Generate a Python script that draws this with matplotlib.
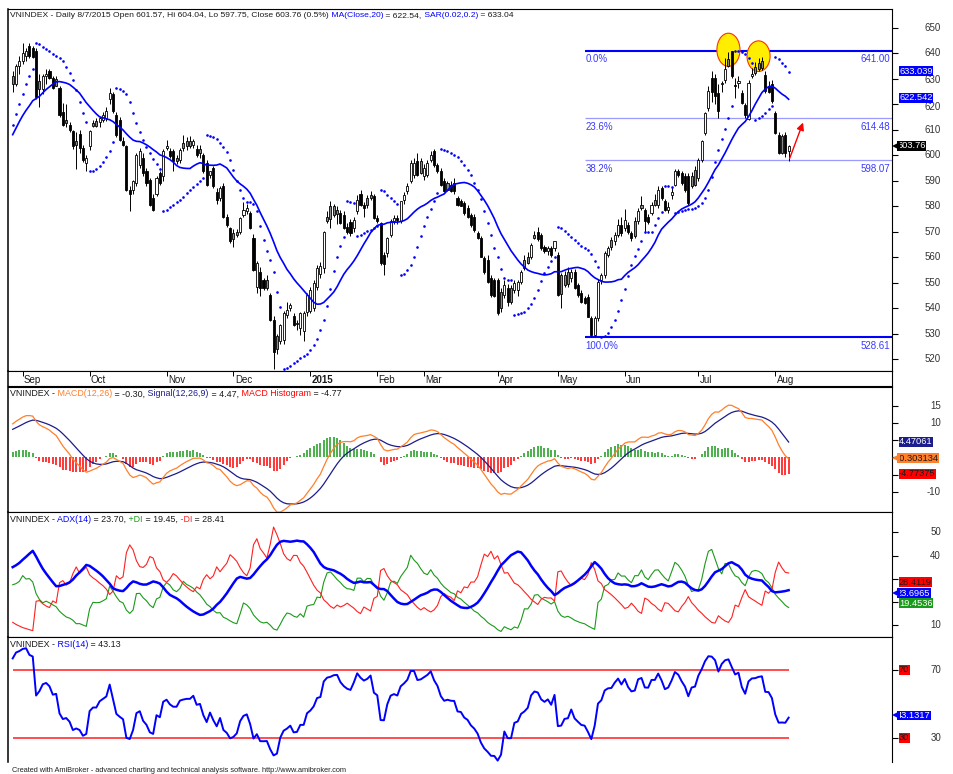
import numpy as np
import pandas as pd
import matplotlib
matplotlib.use("Agg")
import matplotlib.pyplot as plt
from matplotlib.patches import Ellipse
from matplotlib.offsetbox import TextArea, HPacker, AnchoredOffsetbox
from matplotlib.transforms import offset_copy

plt.rcParams['font.family'] = ['Liberation Sans', 'DejaVu Sans']

# ---- data (VNINDEX daily, Jun 2014 - Aug 2015) ----------------------------
# first 60 bars are only there so that the indicators are warmed up
hose_holidays = ['2014-09-01', '2014-09-02', '2015-01-01', '2015-01-02',
                 '2015-02-16', '2015-02-17', '2015-02-18', '2015-02-19', '2015-02-20', '2015-02-23',
                 '2015-04-27', '2015-04-28', '2015-04-29', '2015-04-30', '2015-05-01']
dates = pd.bdate_range('2014-06-04', '2015-08-07')
dates = dates[~dates.isin(pd.to_datetime(hose_holidays))]

opens = [566, 568, 571, 574, 572, 569, 566, 568, 572, 575,
         573, 576, 579, 577, 574, 576, 580, 583, 581, 578,
         580, 584, 582, 579, 577, 580, 583, 585, 584, 582,
         585, 586, 588, 587, 589, 591, 590, 592, 590, 588,
         589, 586, 584, 586, 593, 600, 603, 599, 606, 609,
         603, 606, 610, 605, 609, 614, 617, 619, 621, 624,
         631, 628, 635, 637, 639, 643, 642, 641, 629, 626,
         631, 633, 630.5, 630, 626.5, 617, 614, 612, 609.5, 605.5,
         608.5, 603, 597, 603.5, 612.7, 613.4, 613, 614, 614.7, 622,
         624, 616, 614, 605.5, 603.5, 586.5, 586.5, 589, 596.3, 599,
         593.7, 590.5, 583.2, 585, 593, 591.7, 603, 601.6, 601.6, 599,
         598.3, 604.9, 605.5, 605.5, 604.2, 602.3, 602.3, 600.3, 597, 592.4,
         595, 585.8, 583.2, 587.8, 576, 571.4, 569.5, 570.1, 570.1, 576.7,
         578, 577.4, 567.5, 548.5, 554.4, 551.2, 551, 545.2, 535.4, 529,
         527, 527.5, 537.4, 540, 536.8, 534, 532.1, 531, 538.7, 539,
         540, 548.5, 553.5, 555.7, 576, 580, 580, 578.6, 577.4, 576.7,
         572, 574, 571.4, 578, 585, 580.6, 583.2, 584.5, 583.9, 575.4,
         573.4, 561, 561.6, 568.8, 574.1, 575.4, 574.1, 582.6, 585.9, 589.8,
         592.4, 597.6, 597.6, 591.7, 592.4, 598.3, 601.6, 596.3, 593.7, 589.8,
         589, 588.5, 589, 583.2, 582, 581.2, 579.3, 576.7, 576, 569.5,
         567.5, 559.6, 559, 551.8, 551.2, 551.2, 546.5, 545.2, 547.9, 547.9,
         547.2, 547.2, 550.5, 559, 560.3, 560.3, 568.8, 570, 568.8, 564.2,
         562.3, 563.6, 563.6, 561, 553.1, 553.1, 554.4, 551.8, 554.4, 549.2,
         545.9, 543.9, 544.5, 536.1, 529.5, 536.1, 551.2, 553.1, 561, 566.8,
         566.2, 568.8, 572.8, 571.4, 572.8, 569.5, 574.1, 574.1, 580.6, 578.6,
         576, 577.4, 582.6, 580.6, 587.2, 582, 578.6, 584.5, 588.5, 593.7,
         593, 591.7, 591.7, 591.7, 594.3, 591.1, 598.3, 608.8, 618.6, 630.4,
         630.4, 624.5, 628.5, 629.7, 637.6, 640.9, 627.5, 628.5, 624.5, 619.9,
         614.3, 631, 634.8, 636.2, 636.9, 631.7, 627, 627.8, 616.6, 608.1,
         607.5, 608.1, 601.57]
highs = [569.5, 572.5, 575.5, 575, 573, 570, 569.5, 573, 576.5, 576,
         577.5, 580.5, 580, 578, 577.5, 581.5, 584.5, 584, 582, 581.5,
         585.5, 585, 583, 580, 581.5, 584, 586.5, 586, 585, 585.5,
         588, 589, 589.5, 590, 592, 592.5, 593, 593, 591, 590.5,
         590, 587, 586.5, 594, 601, 605, 604, 607, 610, 610,
         607, 611, 611, 610, 615, 619, 620, 623, 624, 628,
         633, 636, 639, 644, 642, 644, 643, 642, 632, 632,
         634, 634, 631, 631, 627, 620.5, 620, 613, 610, 609,
         610, 604, 600.3, 610, 614, 614.5, 615.5, 617, 619, 626.5,
         625, 617, 615, 607, 604, 588, 590.5, 601, 603, 601,
         595, 591, 585, 592, 594, 602.5, 606, 603, 602.5, 600,
         603, 608, 607, 607.5, 606.5, 604, 604, 601, 598, 594,
         596, 587, 588, 589, 577, 572, 571, 571, 576, 581.5,
         581, 578, 569, 558.5, 556, 552, 553, 546, 537, 530,
         534, 539, 542.6, 542, 538, 535.5, 538.5, 539, 546, 548.5,
         551, 557, 558, 570.5, 578, 582, 581, 580, 578.5, 578,
         573.5, 575, 576, 584.5, 586.5, 581.5, 584.5, 586, 585, 576.5,
         574, 562, 568, 575, 576.5, 576.5, 582, 585.5, 589, 598,
         599, 600.9, 599, 596.5, 598, 601.6, 602.5, 597, 595, 591,
         590, 590, 591, 584, 583, 582, 580.5, 577.5, 577, 570.5,
         568.5, 560.5, 561, 553, 552, 552, 548, 551, 549.5, 549,
         551, 551, 555, 561, 562, 565.5, 570.5, 572, 569.5, 565,
         564.5, 564.5, 566.5, 562, 554, 554.5, 556, 555.5, 555.5, 550,
         547, 545, 545.5, 537, 537, 551.5, 554, 562.5, 564.5, 568,
         570, 575, 576, 579, 574, 570.5, 576, 579.5, 584, 579.5,
         577, 581.5, 585, 588, 588, 583, 581.5, 587.5, 594.5, 594.5,
         594, 593, 593, 593.5, 596, 599, 606, 617, 627, 633,
         632, 628, 629, 638.3, 640.5, 641.0, 630.4, 631, 625.5, 620.5,
         629.5, 634.3, 636.5, 638, 638.5, 633, 629, 629.5, 617.5, 609,
         608.5, 609, 604.04]
lows = [565, 567, 570, 571, 568, 565, 565, 567.5, 571, 572,
        572.5, 575, 576, 573, 573.5, 575, 579.5, 580, 577, 577.5,
        579, 581, 578, 576, 576.5, 579.5, 582, 583, 581, 581.5,
        584, 585, 586, 586, 588, 589, 589, 589, 587, 587,
        585, 583, 583, 585, 592, 597, 595, 598, 604, 601,
        600, 605, 600, 599, 607, 611, 608, 614, 612, 620.5,
        625, 627, 632, 636, 637, 638, 638, 622, 619, 624,
        628, 630, 626, 627, 615, 611.5, 611, 609, 602.5, 594.5,
        601, 597.5, 593.7, 602, 611, 611, 611, 613, 613.5, 620,
        616.5, 607, 605.5, 603.5, 586, 578, 585, 588, 595, 592,
        588, 580, 578, 584, 588.5, 590, 602, 599, 593.7, 596.5,
        597, 601.6, 602, 603, 603, 599.5, 599, 593, 588, 591,
        587, 581, 582, 575.5, 572, 565.5, 564, 568, 569, 576,
        577, 571, 554.5, 546, 545, 547, 547, 535, 516, 522,
        526, 526, 536, 539, 533, 531.5, 529.5, 527, 537, 538,
        539, 547, 552, 554, 573.5, 571.4, 576, 573, 573, 571,
        569, 568.5, 570, 577, 580, 576, 579.5, 582.5, 575, 573.5,
        557, 553, 560, 568, 573, 573, 573.5, 581, 585, 589,
        591, 592, 592.5, 590.5, 591.5, 597.5, 595.5, 593, 588, 585.5,
        586, 585.5, 585, 580, 580, 576.5, 575.5, 572, 570, 567,
        560, 553.5, 550, 544.5, 544.5, 537.5, 538.5, 544, 541, 541.5,
        546, 545, 549.5, 555, 557.5, 559.5, 567, 566.5, 563, 561.5,
        561, 560, 562.5, 545, 540, 548.5, 548.5, 550.5, 547.5, 544.5,
        542, 541.5, 536.5, 528.61, 528.7, 535, 549.5, 552, 560, 563,
        565, 568, 568.5, 570.5, 569, 566.5, 567.5, 573, 578.5, 570,
        573, 576.5, 580, 579.5, 582.5, 578, 577.5, 583, 588, 591.5,
        588.5, 585.5, 580.5, 587, 588, 590, 597.5, 608, 617.5, 621,
        620, 614.5, 625, 628.5, 634.5, 630.5, 622.5, 626.5, 620, 614.5,
        614, 630.4, 631.5, 633, 633.5, 624.5, 624.5, 620.5, 608.5, 600.5,
        600.5, 599.5, 597.75]
closes = [568, 571, 574, 572, 569, 566, 568, 572, 575, 573,
          576, 579, 577, 574, 576, 580, 583, 581, 578, 580,
          584, 582, 579, 577, 580, 583, 585, 584, 582, 584,
          586, 588, 587, 589, 591, 590, 592, 590, 588, 589,
          586, 584, 585, 593, 600, 603, 599, 606, 609, 603,
          606, 610, 605, 609, 614, 617, 619, 621, 624, 627,
          628, 635, 637, 640, 641, 639, 638.5, 623, 626, 631,
          632, 630.5, 626.5, 627, 616, 612, 612.5, 610, 603.5, 604.2,
          603, 598.3, 599, 609.4, 611.4, 611.4, 614.7, 616, 617.3, 624.5,
          617.3, 608.1, 606, 604.2, 586.5, 585, 589.8, 600.3, 601.6, 593,
          589, 580.6, 578.6, 591, 589, 601.6, 603.5, 599.6, 597.6, 597.6,
          602.2, 603, 603.5, 603.5, 605.5, 600.3, 600.8, 593.7, 588.5, 593.7,
          587.8, 582.6, 587.2, 576, 572.8, 566.2, 567, 568.8, 575.4, 578.6,
          579.5, 571.4, 555, 557.6, 548, 547.9, 548, 535.4, 523, 524,
          533.4, 538, 539.4, 541.3, 533.5, 533.8, 538, 538, 545.2, 547,
          549.8, 555.7, 556.5, 570, 574.1, 575, 576.7, 577, 573.4, 571.4,
          570.1, 569.5, 574.8, 582.6, 580.6, 579.3, 580.6, 583.2, 575.4, 574.1,
          557.7, 557.5, 567.5, 574.1, 575.4, 574.5, 581.9, 584.5, 587.8, 597,
          597, 592.4, 593, 595, 597, 600.3, 596.3, 593.7, 588.5, 585.9,
          586.5, 586, 585.9, 580.6, 580.3, 577.3, 576, 572.8, 570.8, 567.5,
          560.3, 554.4, 550.5, 545.2, 545, 538, 540, 549.2, 542.6, 542.6,
          549.8, 550.5, 554.4, 555.7, 557.6, 564.9, 567.5, 567, 563.6, 562.3,
          563.6, 561, 566.2, 545.2, 545.5, 549.2, 549.5, 554.4, 547.9, 545.2,
          542.6, 542, 536.7, 529.5, 536.1, 550.5, 553.1, 561.6, 563.6, 563.9,
          568.8, 572.8, 569.5, 574.7, 570.1, 567.5, 568.2, 578, 579.3, 574.1,
          574, 580.6, 580.6, 586.5, 583.2, 578.6, 579.9, 585.5, 593.7, 592.4,
          589.2, 586.5, 581.2, 587.8, 588.5, 598.3, 605.5, 616.6, 625.2, 625,
          623.2, 617.3, 627.8, 633.7, 635.2, 631.1, 627, 629, 620.5, 616,
          628.5, 632, 632.3, 633.7, 634.3, 625.2, 625, 621.2, 608.8, 600.9,
          601, 600.76, 603.76]

first_shown = '2014-08-27'
circled_days = ['2015-07-14', '2015-07-27']
fib_ratios = [0.0, 0.236, 0.382, 1.0]
fib_from = '2015-04-01'

# readouts as printed by AmiBroker
ma_last, sar_last = 622.542, 633.039
macd_last, signal_last, hist_last = -0.303134, 4.47061, -4.77375
adx_last, pdi_last, mdi_last = 23.6965, 19.4536, 28.4119
rsi_last = 43.1317

# ---- indicators -----------------------------------------------------------
O, Hi, Lo, C = (np.array(a, dtype=float) for a in (opens, highs, lows, closes))
n = len(C)
assert len(dates) == n, (len(dates), n)
x = np.arange(n)
v0 = dates.get_loc(pd.Timestamp(first_shown))
vis = x >= v0
xs = x[vis]
last = n - 1

cs = pd.Series(C)
ma20 = cs.rolling(20).mean().to_numpy()
macd_s = cs.ewm(span=12, adjust=False).mean() - cs.ewm(span=26, adjust=False).mean()
signal = macd_s.ewm(span=9, adjust=False).mean().to_numpy()
macd = macd_s.to_numpy()
hist = macd - signal

def wilder(a):
    return pd.Series(a).ewm(alpha=1 / 14, adjust=False).mean().to_numpy()

d = np.r_[0, np.diff(C)]
rsi = 100 - 100 / (1 + wilder(np.clip(d, 0, None)) / wilder(np.clip(-d, 0, None)))

prev_c = np.r_[C[0], C[:-1]]
tr = np.maximum.reduce([Hi - Lo, np.abs(Hi - prev_c), np.abs(Lo - prev_c)])
up = np.r_[0, np.diff(Hi)]
dn = np.r_[0, -np.diff(Lo)]
atr = wilder(tr)
pdi = 100 * wilder(np.where((up > dn) & (up > 0), up, 0.0)) / atr
mdi = 100 * wilder(np.where((dn > up) & (dn > 0), dn, 0.0)) / atr
dx = 100 * np.abs(pdi - mdi) / np.maximum(pdi + mdi, 1e-9)
adx = wilder(dx)


def parabolic_sar(h, l, step=0.02, amax=0.2):
    sar = np.zeros(len(h))
    rising, af, ep = True, step, h[0]
    sar[0] = l[0]
    for i in range(1, len(h)):
        s = sar[i - 1] + af * (ep - sar[i - 1])
        if rising:
            s = min(s, l[i - 1], l[max(i - 2, 0)])
            if l[i] < s:
                rising, s, ep, af = False, ep, l[i], step
            elif h[i] > ep:
                ep, af = h[i], min(af + step, amax)
        else:
            s = max(s, h[i - 1], h[max(i - 2, 0)])
            if h[i] > s:
                rising, s, ep, af = True, ep, h[i], step
            elif l[i] < ep:
                ep, af = l[i], min(af + step, amax)
        sar[i] = s
    return sar

sar = parabolic_sar(Hi, Lo)

# ---- layout (pixel boxes of the AmiBroker panes) ---------------------------
W, H = 954, 774
fig = plt.figure(figsize=(W / 100, H / 100), dpi=100)
PW = 884

def pane(top, bottom):
    return fig.add_axes([8 / W, 1 - bottom / H, PW / W, (bottom - top) / H])

ax_p = pane(9, 371)
ax_d = pane(371, 386.5)
ax_m = pane(386.5, 512)
ax_a = pane(512, 637)
ax_r = pane(637, 762)
xlim = (v0 - 1.4, v0 + 262.9)

BLUE = '#0000ff'
TXT = '#1a1a1a'
FS = 7
TFS = 6.4

for ax in (ax_p, ax_d, ax_m, ax_a, ax_r):
    ax.set_xlim(*xlim)
    ax.tick_params(axis='x', bottom=False, labelbottom=False)
    for s in ax.spines.values():
        s.set_linewidth(0.8)
        s.set_color('black')
    ax.spines['left'].set_linewidth(1.1)
ax_r.spines['bottom'].set_visible(False)


def right_axis(ax, ticks, covered=()):
    # labels right under a value tag are hidden (as AmiBroker does),
    # labels just touching one are nudged away from it
    ax.set_yticks(ticks)
    ax.tick_params(axis='y', left=False, right=True, labelleft=False, labelright=False,
                   length=4, width=0.8, direction='out')
    lo, hi = ax.get_ylim()
    ppu = ax.get_position().height * H / (hi - lo)
    for t in ticks:
        ty = t
        dists = [(t - c) * ppu for c in covered]
        if any(abs(dd) < 6 for dd in dists):
            continue
        for c, dd in zip(covered, dists):
            if abs(dd) < 9:
                ty = c + np.sign(dd) * 9 / ppu
        ax.text(1 + 49 / PW, ty, f'{t:g}', transform=ax.get_yaxis_transform(),
                ha='right', va='center', fontsize=FS, color='#333333')


def tag(ax, y, text, bg, fg, pointer=False):
    tr_ = ax.get_yaxis_transform()
    x0 = 1 + (5 if pointer else 7) / PW
    ax.text(x0, y, text, transform=tr_, ha='left', va='center', fontsize=6.7, color=fg, zorder=6,
            bbox=dict(boxstyle='square,pad=0.05', fc=bg, ec='none'), clip_on=False)
    if pointer:
        ax.plot([1 + 3.5 / PW], [y], marker='<', ms=6, color=bg, mew=0,
                transform=tr_, clip_on=False, zorder=6)


def title(ax, parts, size=TFS):
    boxes = [TextArea(s, textprops=dict(color=c, fontsize=size)) for s, c in parts]
    pack = HPacker(children=boxes, align='baseline', pad=0, sep=0)
    anch = AnchoredOffsetbox(loc='upper left', child=pack, pad=0, borderpad=0, frameon=False,
                             bbox_to_anchor=(0, 1),
                             bbox_transform=offset_copy(ax.transAxes, fig, x=2, y=-3, units='dots'))
    ax.add_artist(anch)

# ---- price pane -------------------------------------------------------------
ax_p.set_ylim(515.4, 657.4)
right_axis(ax_p, list(range(520, 651, 10)), covered=(sar_last, ma_last, C[last]))
fill = np.where(C >= O, 'white', np.where(C < prev_c, 'black', '#8a8a8a'))
ax_p.vlines(xs, Lo[vis], Hi[vis], color='black', lw=0.7, zorder=3)
ax_p.bar(xs, np.maximum(np.abs(C - O), 0.3)[vis], bottom=np.minimum(O, C)[vis], width=0.62,
         color=fill[vis], edgecolor='black', lw=0.6, zorder=4)
ax_p.plot(xs, ma20[vis], color=BLUE, lw=1.2, zorder=5)
ax_p.plot(xs, sar[vis], ls='none', marker='o', ms=1.9, mew=0, color=BLUE, zorder=5)

f0 = dates.get_loc(pd.Timestamp(fib_from))
lo_i = f0 + int(np.argmin(Lo[f0:]))
fib_lo, fib_hi = Lo[lo_i], Hi[lo_i:].max()
fib_x0 = lo_i - 2
for r in fib_ratios:
    lvl = fib_hi - r * (fib_hi - fib_lo)
    strong = r in (0.0, 1.0)
    ax_p.hlines(lvl, fib_x0, xlim[1], color=BLUE if strong else '#9a9aff',
                lw=1.5 if strong else 0.9, zorder=1)
    ax_p.text(fib_x0 + 0.3, lvl - 1.3, f'{r * 100:.1f}%', color='#3a3aff', fontsize=FS, va='top')
    ax_p.text(xlim[1] - 0.5, lvl - 1.3, f'{lvl:.2f}', color='#3a3aff', fontsize=FS, va='top', ha='right')
    if r == 0.236:
        lvl236 = lvl

for day, hgt in zip(circled_days, (13, 12)):
    i = dates.get_loc(pd.Timestamp(day))
    ax_p.add_patch(Ellipse((i, Hi[i] + 0.9), 6.9, hgt, fc='#ffee00', ec='#ff3000', lw=0.8, zorder=2))

ax_p.annotate('', xy=(last + 4.6, lvl236 - 0.6), xytext=(last, Lo[last]),
              arrowprops=dict(arrowstyle='-|>', color='red', lw=1.0, mutation_scale=11), zorder=6)

tag(ax_p, sar_last, f'{sar_last:.3f}', BLUE, 'white')
tag(ax_p, ma_last, f'{ma_last:.3f}', BLUE, 'white')
tag(ax_p, C[last], f'{C[last]:.2f}', 'black', 'white', pointer=True)

chg = (C[last] / C[last - 1] - 1) * 100
title(ax_p, [(f'VNINDEX - Daily {dates[last].month}/{dates[last].day}/{dates[last].year} '
              f'Open {O[last]:.2f}, Hi {Hi[last]:.2f}, Lo {Lo[last]:.2f}, Close {C[last]:.2f} ({chg:.1f}%)', TXT),
             (' MA(Close,20)', BLUE), (f' = {ma_last:.2f},', TXT),
             (' SAR(0.02,0.2)', BLUE), (f' = {sar_last:.2f}', TXT)], size=6.1)

# ---- date strip -----------------------------------------------------------------
ax_d.set_ylim(0, 1)
ax_d.set_yticks([])
ax_d.tick_params(axis='y', right=False, left=False)
for i in range(v0 + 1, n):
    if dates[i].month != dates[i - 1].month:
        jan = dates[i].month == 1
        ax_d.vlines(i, 0.68, 1, color='black', lw=0.7)
        ax_d.text(i + 0.4, 0.42, str(dates[i].year) if jan else dates[i].strftime('%b'),
                  fontsize=FS, va='center', ha='left', color=TXT, fontweight='bold' if jan else 'normal')

# ---- MACD pane ----------------------------------------------------------------
ORANGE, NAVY, GREEN, RED = '#ff7f2a', '#1c1c8c', '#1a9a1a', '#ff0000'
ax_m.set_ylim(-15.9, 20.6)
right_axis(ax_m, [-10, -5, 0, 5, 10, 15], covered=(signal_last, macd_last, hist_last))
hv = hist[vis]
ax_m.vlines(xs, 0, hv, colors=np.where(hv >= 0, GREEN, RED), lw=1.1, zorder=2)
ax_m.plot(xs, signal[vis], color=NAVY, lw=0.9, zorder=3)
ax_m.plot(xs, macd[vis], color=ORANGE, lw=0.9, zorder=3)
tag(ax_m, signal_last, f'{signal_last:g}', NAVY, 'white')
tag(ax_m, macd_last, f'{macd_last:g}', ORANGE, TXT, pointer=True)
tag(ax_m, hist_last, f'{hist_last:g}', RED, TXT)
title(ax_m, [('VNINDEX -', TXT), (' MACD(12,26)', ORANGE), (f' = {macd_last:.2f},', TXT),
             (' Signal(12,26,9)', NAVY), (f' = {signal_last:.2f},', TXT),
             (' MACD Histogram', RED), (f' = {hist_last:.2f}', TXT)])

# ---- ADX pane -----------------------------------------------------------------
ax_a.set_ylim(4.8, 58.8)
right_axis(ax_a, [10, 20, 30, 40, 50], covered=(mdi_last, adx_last, pdi_last))
ax_a.plot(xs, pdi[vis], color=GREEN, lw=0.8)
ax_a.plot(xs, mdi[vis], color='#ff2020', lw=0.8)
ax_a.plot(xs, adx[vis], color=BLUE, lw=1.8)
tag(ax_a, mdi_last, f'{mdi_last:g}', RED, TXT)
tag(ax_a, adx_last, f'{adx_last:g}', BLUE, 'white', pointer=True)
tag(ax_a, pdi_last, f'{pdi_last:g}', GREEN, 'white')
title(ax_a, [('VNINDEX -', TXT), (' ADX(14)', BLUE), (f' = {adx_last:.2f},', TXT),
             (' +DI', GREEN), (f' = {pdi_last:.2f},', TXT), (' -DI', '#ff2020'), (f' = {mdi_last:.2f}', TXT)])

# ---- RSI pane -----------------------------------------------------------------
ax_r.set_ylim(15.9, 89.1)
right_axis(ax_r, [30, 70], covered=(rsi_last,))
ax_r.hlines([30, 70], v0, last, color='#ff3030', lw=1.2)
ax_r.plot(xs, rsi[vis], color=BLUE, lw=1.4)
tag(ax_r, 70, '70', RED, TXT)
tag(ax_r, 30, '30', RED, TXT)
tag(ax_r, rsi_last, f'{rsi_last:g}', BLUE, 'white', pointer=True)
title(ax_r, [('VNINDEX -', TXT), (' RSI(14)', BLUE), (f' = {rsi_last:.2f}', TXT)])

fig.text(12 / W, 1 - 770 / H, 'Created with AmiBroker - advanced charting and technical analysis software. '
         'http://www.amibroker.com', fontsize=5.3, va='center', color='#222222')

fig.savefig('out.png', dpi=100)
